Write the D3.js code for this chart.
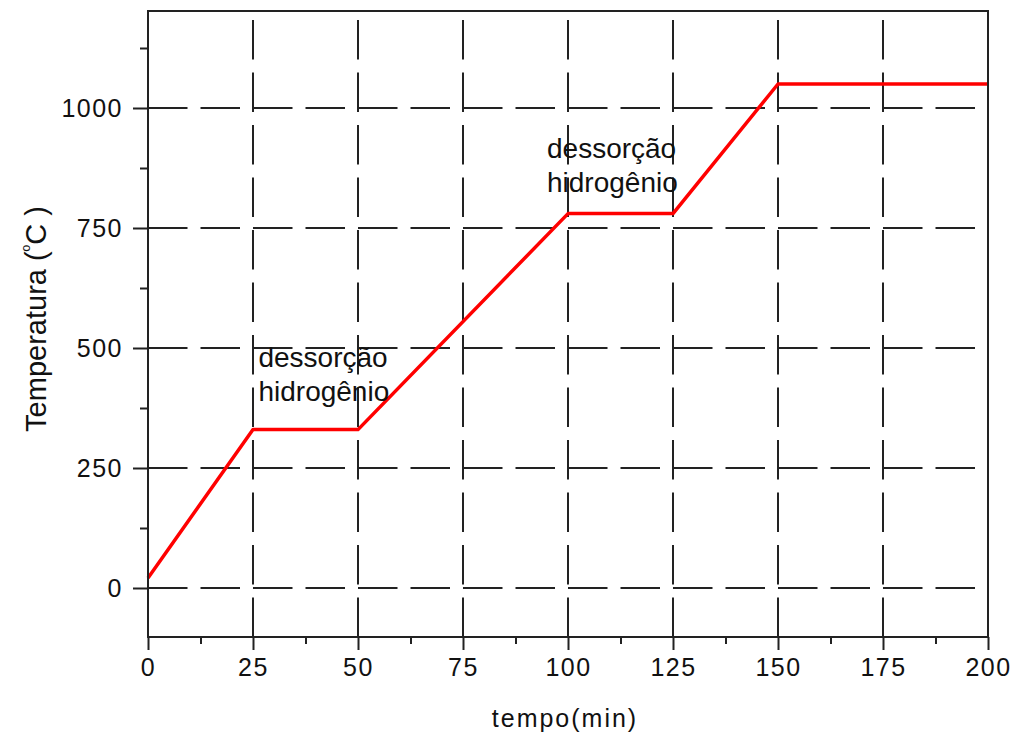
<!DOCTYPE html>
<html>
<head>
<meta charset="utf-8">
<script src="https://cdn.jsdelivr.net/npm/d3@7"></script>
<style>
  body { margin: 0; background: #fff; }
  svg { display: block; font-family: "Liberation Sans", Arial, sans-serif; }
</style>
</head>
<body>
<svg width="1014" height="735"></svg>
<script>
// profile: time (min) vs temperature (ºC)
const timeMin = [0, 25, 50, 100, 125, 150, 200];
const tempC = [21, 330, 330, 780, 780, 1050, 1050];

const xMajor = [0, 25, 50, 75, 100, 125, 150, 175, 200];
const xMinor = [12.5, 37.5, 62.5, 87.5, 112.5, 137.5, 162.5, 187.5];
const yMajor = [0, 250, 500, 750, 1000];
const yMinor = [125, 375, 625, 875, 1125];

const noteLines = ["dessorção", "hidrogênio"];
const noteX = [26.3, 95];
const noteY = [460, 896];

const svg = d3.select("svg");
const ink = "#111";

let x = d3.scaleLinear().domain([0, 200]).range([148, 988]);
let y = d3.scaleLinear().domain([-100, 1200]).range([636, 12]);

// grid
const grid = svg.append("g").attr("stroke", "#222").attr("stroke-width", 2)
  .attr("stroke-dasharray", "39.5,13");
grid.selectAll(".gy").data(yMajor).enter().append("line")
  .attr("x1", x(0)).attr("x2", x(200))
  .attr("y1", d => y(d)).attr("y2", d => y(d));
grid.selectAll(".gx").data(xMajor.filter(d => d > 0 && d < 200)).enter().append("line")
  .attr("x1", d => x(d)).attr("x2", d => x(d))
  .attr("y1", y(-100) + 1).attr("y2", y(1200));

// curve
let line = d3.line().x((d, i) => x(timeMin[i])).y(d => y(d));
svg.append("path").datum(tempC)
  .attr("d", line)
  .attr("fill", "none")
  .attr("stroke", "#ff0000")
  .attr("stroke-width", 3.5)
  .attr("stroke-linejoin", "round");

// frame
svg.append("rect")
  .attr("x", x(0)).attr("y", y(1200) - 1)
  .attr("width", x(200) - x(0)).attr("height", y(-100) - y(1200) + 2)
  .attr("fill", "none").attr("stroke", "#222").attr("stroke-width", 2);

// axes
function styleAxis(g) {
  g.select(".domain").remove();
  g.selectAll("line").attr("stroke", "#222").attr("stroke-width", 2);
  g.selectAll("text").attr("fill", ink).attr("font-size", 25)
    .attr("font-family", "'Liberation Sans', Arial, sans-serif")
    .attr("letter-spacing", 1.5);
}

let axisX = d3.axisBottom(x).tickValues(xMajor).tickSize(13).tickPadding(8).tickFormat(d3.format("d"));
svg.append("g").attr("transform", `translate(0,${y(-100) + 1})`).call(axisX).call(styleAxis);
svg.append("g").attr("transform", `translate(0,${y(-100) + 1})`)
  .call(d3.axisBottom(x).tickValues(xMinor).tickSize(7).tickFormat(""))
  .call(styleAxis);

let axisY = d3.axisLeft(y).tickValues(yMajor).tickSize(15).tickPadding(10).tickFormat(d3.format("d"));
svg.append("g").attr("transform", `translate(${x(0)},0)`).call(axisY).call(styleAxis);
svg.append("g").attr("transform", `translate(${x(0)},0)`)
  .call(d3.axisLeft(y).tickValues(yMinor).tickSize(8).tickFormat(""))
  .call(styleAxis);

// axis titles
svg.append("text")
  .attr("x", 565).attr("y", 727)
  .attr("text-anchor", "middle")
  .attr("font-size", 25).attr("letter-spacing", 2).attr("fill", ink)
  .text("tempo(min)");

let yt = svg.append("text")
  .attr("transform", "translate(46,319) rotate(-90)")
  .attr("text-anchor", "middle")
  .attr("font-size", 29).attr("fill", ink);
yt.append("tspan").text("Temperatura (");
yt.append("tspan").attr("dy", -10).attr("font-size", 18).text("º");
yt.append("tspan").attr("dy", 10).text("C )");

// annotations
noteX.forEach((nx, k) => {
  let t = svg.append("text")
    .attr("x", x(nx)).attr("y", y(noteY[k]))
    .attr("font-size", 28).attr("fill", ink);
  noteLines.forEach((s, j) => {
    t.append("tspan").attr("x", x(nx)).attr("dy", j ? 34 : 0).text(s);
  });
});
</script>
</body>
</html>
